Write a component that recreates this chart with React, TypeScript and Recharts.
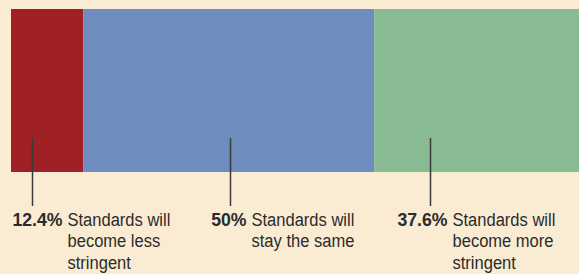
import React from "react";
import { BarChart, Bar, XAxis, YAxis } from "recharts";

const categories = ["Responses"];
const seriesKeys = ["less", "same", "more"];
const shares = [12.4, 50, 37.6];
const pctLabels = ["12.4%", "50%", "37.6%"];
const descLines = [
  ["Standards will", "become less", "stringent"],
  ["Standards will", "stay the same"],
  ["Standards will", "become more", "stringent"],
];

const colors = ["#a02125", "#6e8cbe", "#88bb94"];
// where the leader line sits inside each segment, and where the text starts from the line
const lineFrac = [0.288, 0.503, 0.257];
const textDx = [35, 21, 22];

const data = categories.map((name) => {
  const row: any = { name };
  seriesKeys.forEach((k, i) => (row[k] = shares[i]));
  return row;
});

const FONT = "'Liberation Sans', Arial, sans-serif";

function Callout(props: any) {
  const { x, y, width, height, i } = props;
  const lx = Math.round(x + width * lineFrac[i]) + 0.5;
  const bottom = y + height;
  const tx = lx + textDx[i];
  const base = bottom + 54;
  return (
    <g>
      <line x1={lx} x2={lx} y1={bottom - 34} y2={bottom + 34} stroke="#3a3a3a" strokeWidth={1.5} />
      <g transform={`translate(${tx - 5},${base}) scale(0.93,1)`}>
        <text x={0} y={0} textAnchor="end" fontFamily={FONT} fontSize={19} fontWeight="bold" fill="#2b2b2b">
          {pctLabels[i]}
        </text>
      </g>
      <g transform={`translate(${tx},${base}) scale(0.87,1)`}>
        {descLines[i].map((t, j) => (
          <text key={j} x={0} y={j * 21.5} fontFamily={FONT} fontSize={19} fill="#2b2b2b">
            {t}
          </text>
        ))}
      </g>
    </g>
  );
}

export default function App() {
  return (
    <div style={{ position: "absolute", left: 0, top: 0, width: 579, height: 274, overflow: "hidden", background: "#faebd3" }}>
      <BarChart
        width={593}
        height={274}
        data={data}
        layout="vertical"
        margin={{ top: 9, right: 0, left: 11, bottom: 102 }}
        barCategoryGap={0}
      >
        <XAxis type="number" domain={[0, 100]} hide />
        <YAxis type="category" dataKey="name" hide />
        {seriesKeys.map((k, i) => (
          <Bar
            key={k}
            dataKey={k}
            stackId="a"
            fill={colors[i]}
            isAnimationActive={false}
            label={(p: any) => <Callout {...p} i={i} />}
          />
        ))}
      </BarChart>
    </div>
  );
}
